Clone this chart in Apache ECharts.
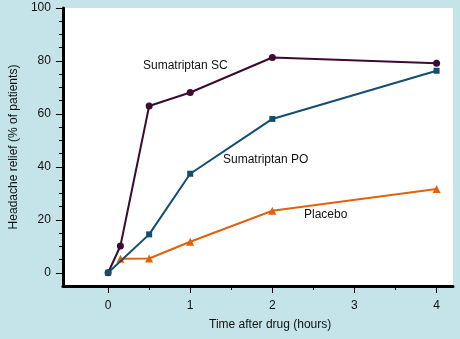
<!DOCTYPE html>
<html>
<head>
<meta charset="utf-8">
<script src="https://cdn.jsdelivr.net/npm/echarts@6/dist/echarts.min.js"></script>
<style>
html,body{margin:0;padding:0;background:#c4e4e9;}
#chart{width:460px;height:339px;}
</style>
</head>
<body>
<div id="chart"></div>
<script>
// Data
const scTime = [0, 0.15, 0.5, 1, 2, 4];
const scValues = [0, 10.1, 63, 68.1, 81.3, 79.1];
const poTime = [0, 0.5, 1, 2, 4];
const poValues = [0, 14.5, 37.4, 58.1, 76.3];
const placeboTime = [0.15, 0.5, 1, 2, 4];
const placeboValues = [5.3, 5.4, 11.7, 23.4, 31.6];
const seriesNames = ['Sumatriptan SC', 'Sumatriptan PO', 'Placebo'];
const xTickLabels = [0, 1, 2, 3, 4];
const xMinorTicks = [0.5, 1.5, 2.5, 3.5];
const yTickLabels = [0, 20, 40, 60, 80, 100];
const yMinorTicks = [5, 10, 15, 25, 30, 35, 45, 50, 55, 65, 70, 75, 85, 90, 95];
const xTitle = 'Time after drug (hours)';
const yTitle = 'Headache relief (% of patients)';

const pair = (xs, ys) => xs.map((x, i) => [x, ys[i]]);
const FONT = '"Liberation Sans", Arial, Helvetica, sans-serif';
const TXT = '#111111';

const chart = echarts.init(document.getElementById('chart'), null, {renderer: 'canvas'});
chart.setOption({
  backgroundColor: '#c4e4e9',
  animation: false,
  textStyle: {fontFamily: FONT},
  grid: {left: 57, right: 7, top: 8, bottom: 53, show: true, backgroundColor: '#ffffff', borderWidth: 0},
  xAxis: [{
    type: 'value', min: -0.55, max: 4.2,
    axisLine: {show: true, onZero: false, lineStyle: {color: '#000', width: 3}},
    axisTick: {show: true, customValues: xTickLabels, length: 7, lineStyle: {color: '#000', width: 1}},
    axisLabel: {show: true, customValues: xTickLabels, margin: 14, fontSize: 12, color: TXT, fontFamily: FONT},
    splitLine: {show: false}
  }, {
    type: 'value', min: -0.55, max: 4.2, position: 'bottom',
    axisLine: {show: false, onZero: false},
    axisTick: {show: true, customValues: xMinorTicks, length: 4, lineStyle: {color: '#000', width: 1}},
    axisLabel: {show: false},
    splitLine: {show: false}
  }],
  yAxis: [{
    type: 'value', min: -5, max: 100,
    name: yTitle, nameLocation: 'middle', nameGap: 39, nameRotate: 90,
    nameTextStyle: {fontSize: 12, color: TXT, fontFamily: FONT},
    axisLine: {show: true, onZero: false, lineStyle: {color: '#000', width: 3}},
    axisTick: {show: true, customValues: yTickLabels, length: 7, lineStyle: {color: '#000', width: 1}},
    axisLabel: {show: true, customValues: yTickLabels, margin: 12, fontSize: 12, color: TXT, fontFamily: FONT},
    splitLine: {show: false}
  }, {
    type: 'value', min: -5, max: 100, position: 'left',
    axisLine: {show: false, onZero: false},
    axisTick: {show: true, customValues: yMinorTicks, length: 4, lineStyle: {color: '#000', width: 1}},
    axisLabel: {show: false},
    splitLine: {show: false}
  }],
  series: [{
    name: seriesNames[0], type: 'line', data: pair(scTime, scValues),
    symbol: 'circle', symbolSize: 7, z: 3,
    lineStyle: {color: '#3b0b30', width: 2}, itemStyle: {color: '#3b0b30'}
  }, {
    name: seriesNames[1], type: 'line', data: pair(poTime, poValues),
    symbol: 'rect', symbolSize: 6, z: 4,
    lineStyle: {color: '#124e72', width: 2}, itemStyle: {color: '#124e72'}
  }, {
    name: seriesNames[2], type: 'line', data: pair(placeboTime, placeboValues),
    symbol: 'triangle', symbolSize: 8, z: 2,
    lineStyle: {color: '#e0620f', width: 2}, itemStyle: {color: '#e0620f'}
  }],
  graphic: [
    {type: 'text', left: 143, top: 60, style: {text: seriesNames[0], font: '12px ' + FONT, fill: TXT}},
    {type: 'text', left: 223, top: 154, style: {text: seriesNames[1], font: '12px ' + FONT, fill: TXT}},
    {type: 'text', left: 304, top: 209, style: {text: seriesNames[2], font: '12px ' + FONT, fill: TXT}},
    {type: 'text', left: 209, top: 319, style: {text: xTitle, font: '12px ' + FONT, fill: TXT}}
  ]
});
</script>
</body>
</html>
